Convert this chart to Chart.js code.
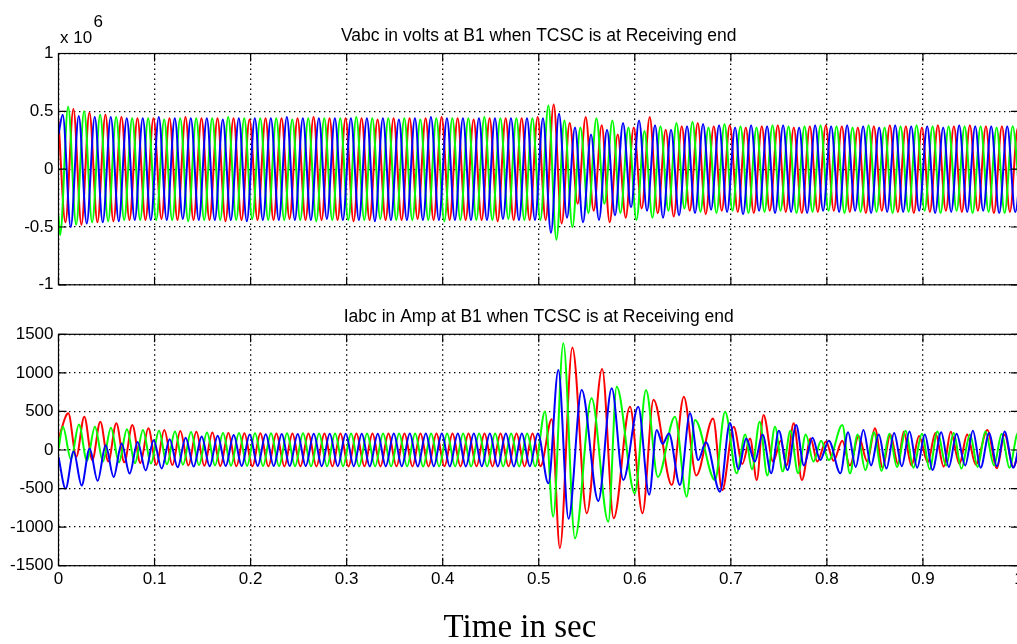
<!DOCTYPE html>
<html>
<head>
<meta charset="utf-8">
<title>Vabc / Iabc at B1</title>
<script src="https://cdn.jsdelivr.net/npm/chart.js@4.4.1/dist/chart.umd.min.js"></script>
<style>
  html, body { margin: 0; padding: 0; background: #fff; overflow: hidden; }
  #wrap { position: relative; width: 1017px; height: 644px; overflow: hidden; }
  canvas { position: absolute; left: 0; }
  #voltCanvas { top: 0; }
  #currCanvas { top: 300px; }
</style>
</head>
<body>
<div id="wrap">
  <canvas id="voltCanvas" width="1030" height="300"></canvas>
  <canvas id="currCanvas" width="1030" height="344"></canvas>
</div>
<script>
// 60 Hz system: one peak or trough every half cycle
const HALF_CYCLE = 1 / 120;

const T_TICKS = [0, 0.1, 0.2, 0.3, 0.4, 0.5, 0.6, 0.7, 0.8, 0.9, 1];
const T_LABELS = ['0', '0.1', '0.2', '0.3', '0.4', '0.5', '0.6', '0.7', '0.8', '0.9', '1'];
const V_TICKS = [-1, -0.5, 0, 0.5, 1];
const V_LABELS = ['-1', '-0.5', '0', '0.5', '1'];
const I_TICKS = [-1500, -1000, -500, 0, 500, 1000, 1500];
const I_LABELS = ['-1500', '-1000', '-500', '0', '500', '1000', '1500'];

// Bus voltages in units of 1e6 V.
// First value is at t = 0, the rest are successive peaks/troughs,
// one every half cycle starting at the *Start time.
const vaStart = 0.0072;
const vaPeaks = [0.42,
  -0.46, 0.52, -0.48, 0.49, -0.46, 0.47, -0.45, 0.45, -0.44, 0.44,
  -0.44, 0.44, -0.43, 0.44, -0.44, 0.45, -0.44, 0.44, -0.44, 0.44,
  -0.45, 0.44, -0.44, 0.43, -0.44, 0.44, -0.44, 0.44, -0.43, 0.44,
  -0.44, 0.45, -0.44, 0.44, -0.44, 0.44, -0.45, 0.44, -0.44, 0.43,
  -0.44, 0.44, -0.44, 0.44, -0.43, 0.44, -0.44, 0.45, -0.44, 0.44,
  -0.44, 0.43, -0.44, 0.44, -0.45, 0.44, -0.44, 0.44, -0.44, 0.45,
  -0.44, 0.56, -0.47, 0.40, -0.30, 0.45, -0.36, 0.38, -0.46, 0.30,
  -0.42, 0.36, -0.34, 0.45, -0.38, 0.34, -0.41, 0.37, -0.36, 0.40,
  -0.39, 0.37, -0.36, 0.38, -0.37, 0.36, -0.38, 0.37, -0.36, 0.38,
  -0.37, 0.36, -0.38, 0.37, -0.37, 0.38, -0.36, 0.37, -0.37, 0.36,
  -0.38, 0.37, -0.36, 0.38, -0.37, 0.37, -0.38, 0.36, -0.37, 0.38,
  -0.36, 0.37, -0.37, 0.38, -0.36, 0.37, -0.38, 0.37, -0.37, 0.36, -0.37];

const vbStart = 0.0017;
const vbPeaks = [-0.40,
  -0.57, 0.54, -0.48, 0.50, -0.46, 0.47, -0.45, 0.45, -0.44, 0.44,
  -0.44, 0.44, -0.44, 0.43, -0.44, 0.44, -0.45, 0.44, -0.44, 0.44,
  -0.44, 0.45, -0.44, 0.44, -0.43, 0.44, -0.44, 0.44, -0.44, 0.43,
  -0.44, 0.44, -0.45, 0.44, -0.44, 0.44, -0.44, 0.45, -0.44, 0.44,
  -0.43, 0.44, -0.44, 0.44, -0.44, 0.43, -0.44, 0.44, -0.45, 0.44,
  -0.44, 0.44, -0.44, 0.45, -0.44, 0.44, -0.43, 0.44, -0.44, 0.44,
  -0.44, 0.55, -0.61, 0.42, -0.50, 0.36, -0.38, 0.44, -0.30, 0.42,
  -0.38, 0.36, -0.44, 0.33, -0.42, 0.37, -0.36, 0.40, -0.34, 0.41,
  -0.37, 0.36, -0.38, 0.39, -0.36, 0.37, -0.38, 0.36, -0.37, 0.38,
  -0.36, 0.37, -0.38, 0.37, -0.37, 0.38, -0.36, 0.37, -0.38, 0.36,
  -0.37, 0.38, -0.37, 0.36, -0.38, 0.37, -0.37, 0.38, -0.36, 0.37,
  -0.38, 0.37, -0.36, 0.37, -0.38, 0.37, -0.37, 0.36, -0.38, 0.37, -0.37];

const vcStart = 0.0044;
const vcPeaks = [0.30,
  0.47, -0.50, 0.46, -0.47, 0.45, -0.46, 0.45, -0.45, 0.44, -0.44,
  0.44, -0.44, 0.45, -0.44, 0.44, -0.43, 0.44, -0.44, 0.44, -0.44,
  0.43, -0.44, 0.44, -0.45, 0.44, -0.44, 0.44, -0.44, 0.45, -0.44,
  0.44, -0.44, 0.44, -0.43, 0.44, -0.44, 0.44, -0.44, 0.44, -0.45,
  0.44, -0.44, 0.43, -0.44, 0.44, -0.44, 0.45, -0.44, 0.44, -0.44,
  0.44, -0.44, 0.44, -0.44, 0.44, -0.43, 0.44, -0.44, 0.44, -0.44,
  0.44, -0.55, 0.48, -0.42, 0.36, -0.46, 0.30, -0.44, 0.34, -0.40,
  0.40, -0.33, 0.42, -0.36, 0.38, -0.42, 0.34, -0.40, 0.37, -0.38,
  0.39, -0.35, 0.38, -0.37, 0.36, -0.39, 0.38, -0.36, 0.37, -0.38,
  0.38, -0.37, 0.36, -0.38, 0.38, -0.36, 0.37, -0.37, 0.38, -0.36,
  0.37, -0.38, 0.36, -0.37, 0.38, -0.37, 0.37, -0.36, 0.37, -0.38,
  0.36, -0.37, 0.38, -0.37, 0.37, -0.36, 0.37, -0.38, 0.37, -0.37, 0.37];

// Line currents in A. Head: same half-cycle layout as the voltages, up to the
// disturbance at 0.5 s. After that the peaks come irregularly, so each one
// carries its own time.
const iaStart = 0.0102;
const iaHead = [150,
  475, -86, 432, -130, 367, -150, 346, -160, 324, -168,
  281, -190, 259, -195, 245, -200, 235, -205, 228, -208,
  222, -210, 218, -212, 216, -212, 215, -213, 214, -212,
  215, -213, 214, -212, 215, -214, 213, -212, 215, -213,
  214, -212, 215, -213, 214, -213, 215, -212, 214, -213,
  215, -212, 214, -213, 215, -212, 214, -213, 215, -210];
const iaTailT = [
  0.5135, 0.5220, 0.5350, 0.5500, 0.5660, 0.5780, 0.5950, 0.6080, 0.6195, 0.6385,
  0.6510, 0.6640, 0.6815, 0.6910, 0.7030, 0.7120, 0.7200, 0.7270, 0.7340, 0.7440,
  0.7520, 0.7580, 0.7654, 0.7740, 0.7830, 0.7900, 0.7990, 0.8070, 0.8160, 0.8240,
  0.8330, 0.8420, 0.8500, 0.8580, 0.8660, 0.8740, 0.8800, 0.8880, 0.8960, 0.9050,
  0.9130, 0.9216, 0.9290, 0.9380, 0.9460, 0.9550, 0.9670, 0.9770, 0.9850, 0.9940, 1.0030];
const iaTailV = [
  400, -1270, 1330, -820, 1050, -885, 560, -820, 650, -455,
  690, -330, 410, -520, 300, -180, 150, -390, 454, -150,
  120, -200, 346, -390, 150, -150, 110, -140, 120, -200,
  180, -150, 281, -230, 200, -180, 237, -200, 180, -160,
  220, -216, 237, -180, 200, -190, 259, -238, 200, -220, 210];

const ibStart = 0.0046;
const ibHead = [20,
  300, -120, 330, -140, 300, -150, 290, -160, 270, -170,
  260, -175, 250, -185, 240, -190, 232, -195, 226, -200,
  222, -203, 220, -206, 218, -208, 217, -209, 216, -210,
  216, -211, 215, -212, 215, -212, 214, -213, 214, -213,
  214, -213, 215, -213, 214, -214, 214, -213, 215, -213,
  214, -214, 215, -213, 214, -213, 215, -214, 214, -213];
const ibTailT = [
  0.5065, 0.5150, 0.5256, 0.5377, 0.5550, 0.5724, 0.5811, 0.6000, 0.6117, 0.6240,
  0.6418, 0.6540, 0.6627, 0.6835, 0.6940, 0.7060, 0.7150, 0.7220, 0.7300, 0.7380,
  0.7460, 0.7540, 0.7620, 0.7700, 0.7780, 0.7860, 0.7940, 0.8020, 0.8160, 0.8240,
  0.8320, 0.8400, 0.8490, 0.8570, 0.8650, 0.8730, 0.8820, 0.8900, 0.8990, 0.9070,
  0.9150, 0.9240, 0.9320, 0.9400, 0.9490, 0.9570, 0.9650, 0.9740, 0.9820, 0.9900,
  0.9990, 1.0070];
const ibTailV = [
  500, -865, 1383, -1145, 670, -929, 820, -560, 777, -350,
  432, -605, 389, -389, 497, -302, 200, -250, 367, -330,
  300, -280, 250, -300, 200, -150, 120, -130, 324, -302,
  200, -260, 230, -270, 210, -220, 250, -230, 210, -250,
  240, -200, 220, -240, 200, -220, 240, -200, 210, -230,
  220, -210];

const icStart = 0.0074;
const icHead = [-90,
  -500, -20, -460, 20, -400, 60, -350, 85, -305, 105,
  -265, 125, -240, 140, -225, 160, -215, 175, -210, 185,
  -208, 195, -207, 200, -206, 205, -207, 207, -208, 208,
  -209, 210, -210, 211, -210, 212, -211, 212, -212, 212,
  -212, 213, -212, 213, -213, 213, -212, 214, -213, 213,
  -213, 214, -212, 213, -213, 214, -213, 213, -212, 214];
const icTailT = [
  0.5100, 0.5204, 0.5310, 0.5447, 0.5620, 0.5760, 0.5880, 0.6036, 0.6150, 0.6228,
  0.6290, 0.6355, 0.6470, 0.6575, 0.6660, 0.6740, 0.6887, 0.6990, 0.7080, 0.7160,
  0.7250, 0.7330, 0.7420, 0.7500, 0.7590, 0.7680, 0.7760, 0.7850, 0.7930, 0.8020,
  0.8140, 0.8220, 0.8300, 0.8380, 0.8460, 0.8540, 0.8620, 0.8700, 0.8780, 0.8860,
  0.8940, 0.9020, 0.9100, 0.9190, 0.9270, 0.9350, 0.9440, 0.9520, 0.9600, 0.9690,
  0.9770, 0.9850, 0.9940, 1.0020];
const icTailV = [
  -432, 1037, -890, 778, -660, 800, -390, 560, -580, 260,
  80, 215, -454, 475, -130, 100, -540, 350, -250, 150,
  -150, 200, -300, 250, -260, 324, -200, 160, -130, 120,
  -302, 230, -220, 260, -200, 200, -240, 220, -210, 240,
  -230, 200, -260, 230, -220, 210, -200, 250, -230, 220,
  -210, 240, -230, 220];

// values[0] sits at t = 0, values[k] at start + (k - 1) half cycles
function halfCycleSeries(start, values) {
  return values.map((v, k) => ({ x: k === 0 ? 0 : start + (k - 1) * HALF_CYCLE, y: v }));
}

function timedSeries(times, values) {
  return times.map((t, k) => ({ x: t, y: values[k] }));
}

function trace(color, points, order) {
  return {
    data: points,
    borderColor: color,
    borderWidth: 2,
    pointRadius: 0,
    fill: false,
    cubicInterpolationMode: 'monotone',
    order: order
  };
}

Chart.defaults.font.family = '"Liberation Sans", Arial, sans-serif';
Chart.defaults.font.size = 17;
Chart.defaults.color = '#000';

// MATLAB-style box: solid frame, ticks pointing inward on all four sides,
// title above the axes and optional extra labels
const axesFrame = {
  id: 'axesFrame',
  afterDraw(chart, args, opts) {
    const { ctx, chartArea: a } = chart;
    const xs = chart.scales.x, ys = chart.scales.y;
    const len = 8;
    ctx.save();
    ctx.strokeStyle = '#000';
    ctx.lineWidth = 1.2;
    ctx.strokeRect(a.left, a.top, a.right - a.left, a.bottom - a.top);
    ctx.beginPath();
    xs.ticks.forEach(t => {
      const px = xs.getPixelForValue(t.value);
      ctx.moveTo(px, a.bottom); ctx.lineTo(px, a.bottom - len);
      ctx.moveTo(px, a.top); ctx.lineTo(px, a.top + len);
    });
    ys.ticks.forEach(t => {
      const py = ys.getPixelForValue(t.value);
      ctx.moveTo(a.left, py); ctx.lineTo(a.left + len, py);
      ctx.moveTo(a.right, py); ctx.lineTo(a.right - len, py);
    });
    ctx.stroke();

    ctx.fillStyle = '#000';
    ctx.font = '17.5px "Liberation Sans", Arial, sans-serif';
    ctx.textAlign = 'center';
    ctx.textBaseline = 'middle';
    ctx.fillText(opts.title, (a.left + a.right) / 2, a.top - 17.5);

    if (opts.exponent) {
      ctx.textAlign = 'left';
      ctx.font = '17px "Liberation Sans", Arial, sans-serif';
      ctx.fillText('x 10', a.left + 1.5, a.top - 15.5);
      ctx.fillText(opts.exponent, a.left + 35, a.top - 31.5);
    }
    if (opts.xlabel) {
      ctx.textAlign = 'center';
      ctx.textBaseline = 'alphabetic';
      ctx.font = '33px "Liberation Serif", "Times New Roman", serif';
      ctx.fillText(opts.xlabel, opts.xlabelX, opts.xlabelY);
    }
    ctx.restore();
  }
};

const gridStyle = { color: '#000', lineWidth: 1.3, drawTicks: false };
const gridDash = { display: false, dash: [1.4, 3.6] };

function timeAxis(showLabels, height) {
  return {
    type: 'linear',
    min: 0,
    max: 1,
    afterBuildTicks: s => { s.ticks = T_TICKS.map(v => ({ value: v })); },
    afterFit: s => { s.height = height; },
    ticks: { display: showLabels, padding: 3, maxRotation: 0, callback: (v, i) => T_LABELS[i] },
    grid: gridStyle,
    border: gridDash
  };
}

function valueAxis(ticks, labels) {
  return {
    type: 'linear',
    min: ticks[0],
    max: ticks[ticks.length - 1],
    afterBuildTicks: s => { s.ticks = ticks.map(v => ({ value: v })); },
    afterFit: s => { s.width = 58.5; },
    ticks: { padding: 5, callback: (v, i) => labels[i] },
    grid: gridStyle,
    border: gridDash
  };
}

new Chart(document.getElementById('voltCanvas'), {
  type: 'line',
  data: {
    datasets: [
      trace('#ff0000', halfCycleSeries(vaStart, vaPeaks), 3),
      trace('#00ff00', halfCycleSeries(vbStart, vbPeaks), 2),
      trace('#0000ff', halfCycleSeries(vcStart, vcPeaks), 1)
    ]
  },
  options: {
    responsive: false,
    animation: false,
    events: [],
    layout: { padding: { top: 53.5, right: 11, bottom: 14, left: 0 } },
    plugins: {
      legend: { display: false },
      tooltip: { enabled: false },
      axesFrame: { title: 'Vabc in volts at B1 when TCSC is at Receiving end', exponent: '6' }
    },
    scales: {
      x: timeAxis(false, 0),
      y: valueAxis(V_TICKS, V_LABELS)
    }
  },
  plugins: [axesFrame]
});

new Chart(document.getElementById('currCanvas'), {
  type: 'line',
  data: {
    datasets: [
      trace('#ff0000', halfCycleSeries(iaStart, iaHead).concat(timedSeries(iaTailT, iaTailV)), 3),
      trace('#00ff00', halfCycleSeries(ibStart, ibHead).concat(timedSeries(ibTailT, ibTailV)), 2),
      trace('#0000ff', halfCycleSeries(icStart, icHead).concat(timedSeries(icTailT, icTailV)), 1)
    ]
  },
  options: {
    responsive: false,
    animation: false,
    events: [],
    layout: { padding: { top: 34.3, right: 11, bottom: 0, left: 0 } },
    plugins: {
      legend: { display: false },
      tooltip: { enabled: false },
      axesFrame: {
        title: 'Iabc in Amp at B1 when TCSC is at Receiving end',
        xlabel: 'Time in sec', xlabelX: 520, xlabelY: 337
      }
    },
    scales: {
      x: timeAxis(true, 78.3),
      y: valueAxis(I_TICKS, I_LABELS)
    }
  },
  plugins: [axesFrame]
});
</script>
</body>
</html>
